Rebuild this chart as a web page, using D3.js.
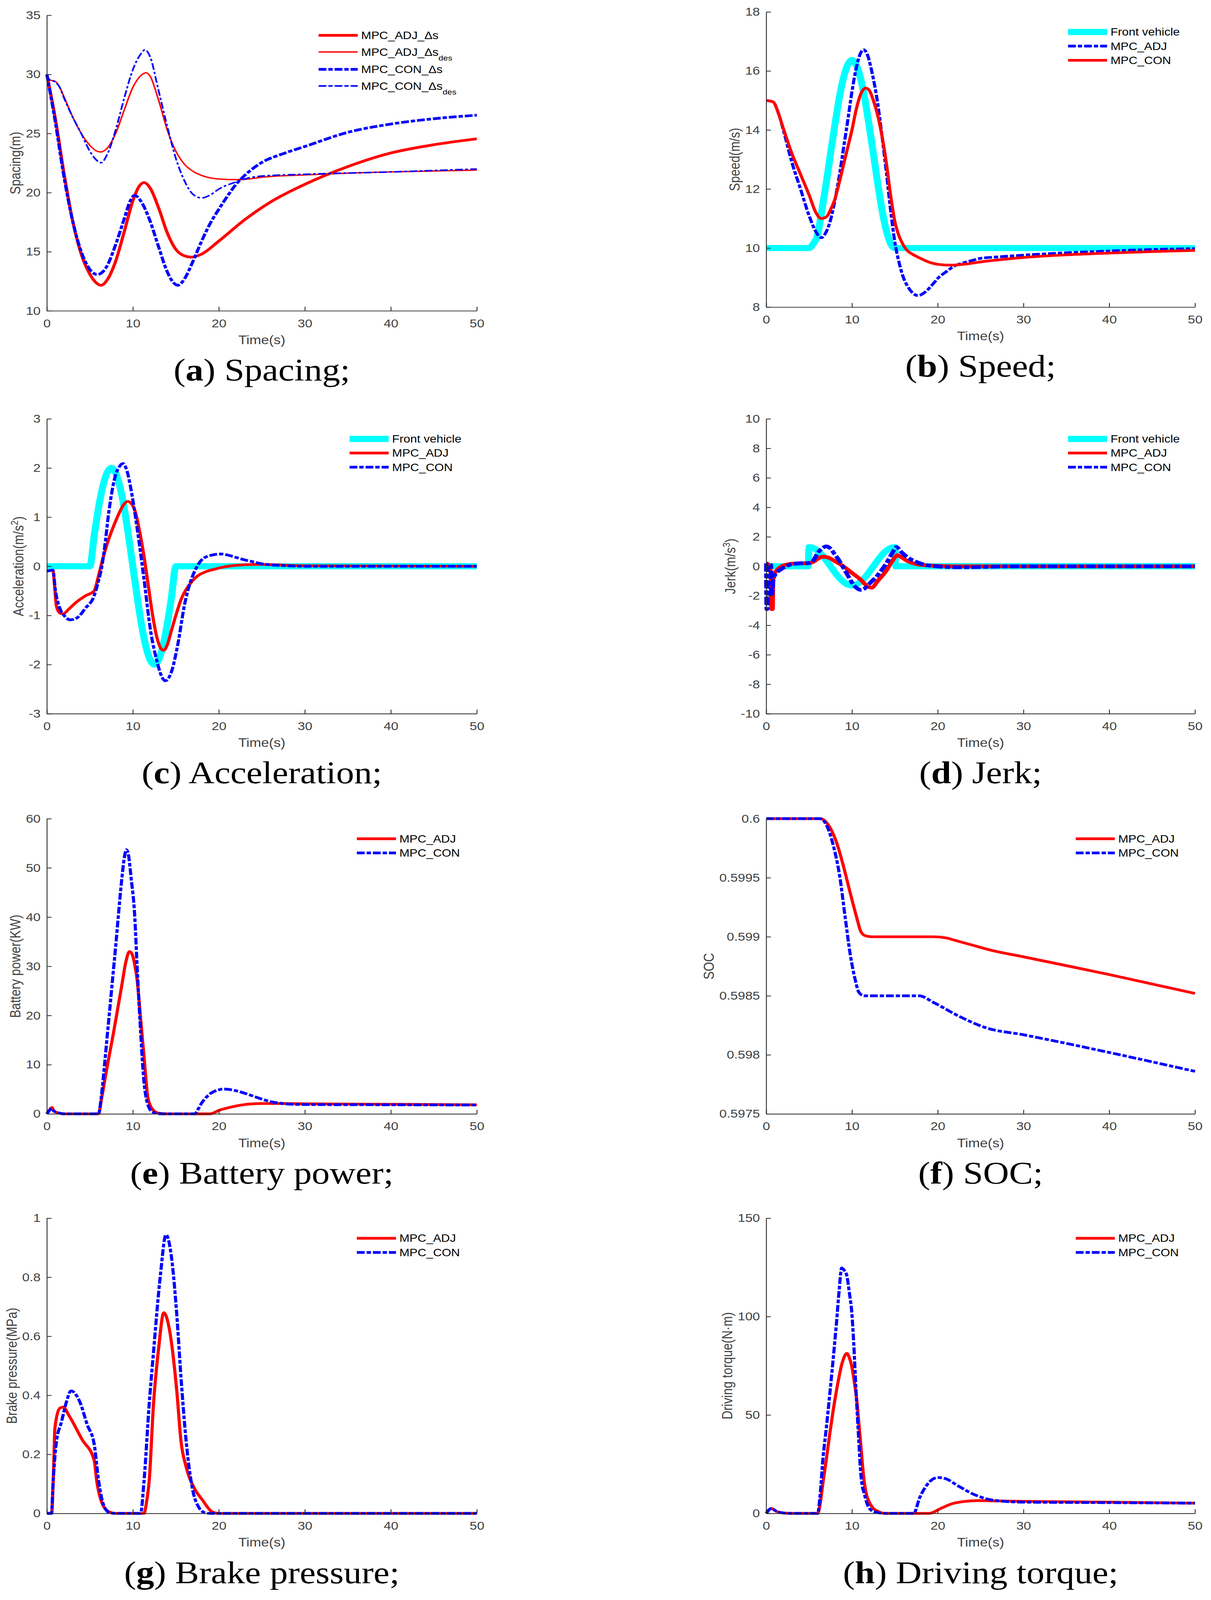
<!DOCTYPE html>
<html>
<head>
<meta charset="utf-8">
<script src="https://cdn.jsdelivr.net/npm/d3@7"></script>
<style>
	html, body { margin: 0; padding: 0; background: #fff; overflow: hidden; }
	svg { display: block; width: 100vw; height: 100vh; }
</style>
</head>
<body>
<svg id="fig" viewBox="0 0 3101 4710" preserveAspectRatio="none"></svg>
<script>

// ---- data: [time (s), value] ----

var timeTicks = [ 0, 10, 20, 30, 40, 50 ];

// (a) spacing
var spacingTicks = [ 10, 15, 20, 25, 30, 35 ];
var spacingAdj = [ [0,30],[1,26.2],[2,21.6],[3,17.6],[4,14.8],[5,13.1],[5.7,12.4],[6.3,12.16],[7,12.6],[8,14.2],[9,16.7],[10,19.3],[10.7,20.5],[11.3,20.85],[12,20.4],[13,18.7],[14,16.6],[15,15.2],[16,14.65],[16.8,14.54],[18,14.8],[20,15.9],[23,17.7],[26,19.2],[30,20.7],[35,22.2],[40,23.35],[45,24.05],[50,24.55] ];
var spacingAdjDes = [ [0,30],[0.3,29.55],[1,29.4],[1.5,28.9],[2,28.1],[3,26.4],[4,25.0],[5,24.0],[5.7,23.55],[6.3,23.44],[7,23.75],[8,25.0],[9,27.0],[10,28.9],[11,29.95],[11.55,30.14],[12,29.85],[13,27.8],[14,25.3],[15,23.5],[16,22.4],[17,21.8],[18,21.45],[20,21.15],[22,21.1],[23.5,21.15],[25,21.3],[30,21.5],[35,21.65],[40,21.75],[50,21.9] ];
var spacingCon = [ [0,30],[1,25.9],[2,21.3],[3,17.6],[4,15.0],[5,13.5],[5.85,13.07],[6.5,13.3],[7,13.8],[8,15.6],[9,17.8],[9.7,19.3],[10.2,19.77],[11,19.2],[12,17.6],[13,15.4],[14,13.3],[14.7,12.4],[15.25,12.16],[16,12.7],[17,14.2],[18,15.9],[19,17.4],[20,18.6],[21,19.7],[22,20.7],[23,21.45],[25,22.55],[27.5,23.3],[30,23.9],[35,25.1],[40,25.8],[45,26.25],[50,26.55] ];
var spacingConDes = [ [0,30],[0.3,29.55],[1,29.35],[1.5,28.9],[2,28.0],[3,26.4],[4,25.0],[5,23.5],[5.7,22.8],[6.3,22.53],[7,23.2],[8,25.3],[9,28.0],[10,30.4],[11,31.8],[11.4,32.08],[12,31.5],[13,28.6],[14,25.6],[15,22.9],[16,21.0],[17,19.85],[18,19.55],[19,19.8],[20,20.3],[22,20.9],[23,21.15],[25,21.4],[30,21.55],[40,21.75],[50,22.0] ];

// (b) speed
var speedTicks = [ 8, 10, 12, 14, 16, 18 ];
var speedFront = [ [0,10],[5,10],[5.5,10.15],[6,10.45],[6.5,11.3],[7,12.2],[7.5,13.2],[8,14.15],[8.5,15.05],[9,15.75],[9.5,16.2],[10,16.37],[10.5,16.2],[11,15.75],[11.5,15.05],[12,14.15],[12.5,13.2],[13,12.2],[13.5,11.3],[14,10.6],[14.5,10.15],[15,10],[50,10] ];
var speedAdj = [ [0,15],[0.8,14.95],[1.5,14.5],[2,14.0],[3,12.9],[4,12.0],[5,11.1],[5.8,10.55],[6.4,10.35],[7,10.55],[7.5,10.95],[8,11.6],[8.5,12.4],[9,13.35],[9.5,14.3],[10,15.3],[10.5,16.1],[11,16.6],[11.35,16.72],[11.8,16.55],[12.3,16.0],[13,14.9],[13.5,13.8],[14,12.6],[14.5,11.3],[15,10.2],[15.5,9.5],[16,9.0],[16.5,8.7],[17,8.5],[17.7,8.39],[18.5,8.5],[19.5,8.8],[20,8.97],[21,9.2],[22,9.4],[23,9.5],[24,9.58],[25,9.65],[27,9.7],[30,9.76],[35,9.84],[40,9.9],[45,9.95],[50,9.98] ];
var speedCon = [ [0,15],[0.8,14.95],[1.5,14.5],[2,14.05],[3,13.2],[4,12.5],[5,11.8],[5.8,11.2],[6.4,11.0],[7,11.05],[7.5,11.3],[8,11.65],[8.5,12.2],[9,12.8],[9.5,13.4],[10,14.0],[10.5,14.7],[11,15.2],[11.6,15.42],[12,15.35],[12.5,15.0],[13,14.5],[13.5,13.8],[14,12.9],[14.5,11.8],[15,10.9],[15.5,10.4],[16,10.1],[16.5,9.9],[17,9.8],[18,9.65],[19,9.52],[20,9.45],[21.6,9.42],[23,9.45],[25,9.53],[30,9.68],[35,9.77],[40,9.83],[45,9.88],[50,9.92] ];

// (c) acceleration
var accTicks = [ -3, -2, -1, 0, 1, 2, 3 ];
var accFront = [ [0,0],[5,0],[5.5,0.62],[6,1.18],[6.5,1.62],[7,1.9],[7.5,2.0],[8,1.9],[8.5,1.62],[9,1.18],[9.5,0.62],[10,0],[10.5,-0.62],[11,-1.18],[11.5,-1.62],[12,-1.9],[12.5,-2.0],[13,-1.9],[13.5,-1.62],[14,-1.18],[14.5,-0.62],[15,0],[50,0] ];
var accAdj = [ [0,-0.1],[0.7,-0.08],[0.9,-0.4],[1.1,-0.8],[1.5,-0.95],[1.9,-0.97],[2.5,-0.88],[3.5,-0.72],[4.5,-0.6],[5.5,-0.5],[6,-0.2],[6.5,0.15],[7,0.45],[7.5,0.7],[8,0.92],[8.5,1.12],[9,1.27],[9.4,1.32],[9.8,1.28],[10.3,1.1],[10.8,0.7],[11.3,0.2],[11.8,-0.4],[12.3,-1.0],[12.8,-1.45],[13.3,-1.68],[13.6,-1.71],[14,-1.6],[14.5,-1.3],[15,-1.0],[15.6,-0.68],[16.6,-0.37],[17.5,-0.2],[18.5,-0.11],[19.5,-0.06],[20.7,-0.01],[22,0.02],[24.5,0.04],[28,0.02],[30,0.01],[50,0] ];
var accCon = [ [0,-0.1],[0.7,-0.08],[1.0,-0.5],[1.5,-0.85],[2,-1.0],[2.7,-1.09],[3.5,-1.05],[4.5,-0.85],[5.5,-0.6],[6,-0.3],[6.4,0],[6.8,0.5],[7.15,1.03],[7.5,1.45],[7.9,1.8],[8.4,2.02],[8.85,2.09],[9.3,1.95],[9.8,1.55],[10.5,0.77],[11.3,-0.27],[12.05,-1.3],[12.8,-1.93],[13.3,-2.22],[13.75,-2.33],[14.5,-2.14],[15.25,-1.57],[16,-0.79],[16.6,-0.37],[17.3,-0.06],[18,0.13],[19,0.22],[20.3,0.25],[21,0.23],[22,0.18],[23,0.13],[24,0.09],[25,0.05],[26,0.03],[28,0.01],[30,0],[50,0] ];

// (d) jerk
var jerkTicks = [ -10, -8, -6, -4, -2, 0, 2, 4, 6, 8, 10 ];
var jerkFront = [ [0,0],[4.9,0],[5,1.3],[5.5,1.24],[6,1.05],[6.5,0.77],[7,0.4],[7.5,0],[8,-0.4],[8.5,-0.77],[9,-1.05],[9.5,-1.24],[10,-1.3],[10.5,-1.24],[11,-1.05],[11.5,-0.77],[12,-0.4],[12.5,0],[13,0.4],[13.5,0.77],[14,1.05],[14.5,1.24],[15,1.3],[15.1,0],[50,0] ];
var jerkAdj = [ [0,0.2],[0.3,0.1],[0.55,-0.5],[0.62,-2.9],[0.75,-2.9],[0.8,-1.0],[0.9,-0.6],[1.2,-0.3],[1.6,-0.08],[2,0.05],[2.5,0.13],[3,0.18],[4,0.2],[5,0.22],[5.5,0.3],[6,0.5],[6.6,0.65],[7.2,0.6],[8,0.35],[9,0.0],[10,-0.45],[11,-0.9],[11.8,-1.35],[12.3,-1.45],[13,-1.0],[14,-0.3],[14.7,0.35],[15.3,0.75],[15.8,0.6],[16.5,0.35],[17.5,0.15],[18.5,0.07],[20,0.03],[22,0],[50,0] ];
var jerkCon = [ [0,0.2],[0.05,-2.9],[0.12,-2.9],[0.2,0.15],[0.55,0.1],[0.62,-2.0],[0.7,-1.8],[0.85,-0.8],[1.2,-0.45],[1.6,-0.25],[2,-0.1],[2.5,0.05],[3,0.15],[4,0.2],[5,0.22],[5.5,0.4],[6,0.9],[6.5,1.2],[7,1.35],[7.5,1.2],[8,0.8],[8.5,0.4],[9,-0.1],[9.5,-0.6],[10,-1.1],[10.5,-1.45],[11,-1.6],[11.5,-1.5],[12,-1.2],[13,-0.6],[14,0.2],[14.7,0.9],[15.2,1.3],[15.7,1.0],[16.5,0.6],[17.5,0.3],[18.5,0.1],[19.5,0.02],[21,-0.05],[23,-0.07],[25,-0.05],[27,-0.02],[30,0],[50,0] ];

// (e) battery power
var powerTicks = [ 0, 10, 20, 30, 40, 50, 60 ];
var powerAdj = [ [0,0],[0.3,0.8],[0.6,1.3],[0.8,0.6],[1.2,0.25],[2,0],[6,0],[6.4,3.5],[7,9.5],[7.7,16],[8.2,21],[8.7,26],[9.2,31],[9.6,33.0],[9.9,32.5],[10.2,30.5],[10.5,27.2],[10.7,23.5],[10.9,19.4],[11.1,15.5],[11.3,11.6],[11.5,7.5],[11.7,3.8],[12,1.8],[12.4,0.7],[13,0.15],[14,0],[19,0],[19.5,0.3],[20,0.7],[21,1.2],[22,1.6],[23,1.9],[24,2.05],[25,2.1],[27,2.1],[30,2.05],[40,1.95],[50,1.85] ];
var powerCon = [ [0,0],[0.3,0.7],[0.6,1.1],[0.8,0.6],[1.2,0.3],[2,0],[6,0],[6.3,3],[6.6,8],[7,15.5],[7.3,21],[7.7,28.5],[8,34],[8.3,40],[8.7,47.5],[9,52],[9.25,53.7],[9.5,52.5],[9.8,47.9],[10.2,40.7],[10.5,29.8],[10.7,23],[10.9,16.8],[11.1,11],[11.3,6.4],[11.6,2.8],[11.9,1.2],[12.3,0.4],[13,0.05],[14,0],[17.2,0],[17.6,1],[18,2.2],[18.5,3.3],[19,4.1],[19.5,4.6],[20,4.9],[20.5,5.05],[21,5.0],[22,4.7],[23,4.2],[24,3.6],[25,3.0],[26,2.5],[27,2.2],[28,2.0],[30,1.9],[40,1.85],[50,1.8] ];

// (f) SOC
var socTicks = [ 0.5975, 0.598, 0.5985, 0.599, 0.5995, 0.6 ];
var socAdj = [ [0,0.6],[6.3,0.6],[7.0,0.59997],[7.4,0.59993],[8.2,0.5998],[9.0,0.5996],[9.8,0.59937],[10.6,0.59915],[11.0,0.59905],[11.5,0.59901],[12.3,0.599],[19.5,0.599],[21,0.59899],[22,0.59897],[24,0.59893],[26,0.59889],[30,0.59883],[40,0.59868],[50,0.59852] ];
var socCon = [ [0,0.6],[6.3,0.6],[7.0,0.59995],[7.8,0.59978],[8.6,0.5995],[9.2,0.59917],[9.8,0.59885],[10.4,0.59863],[10.8,0.59853],[11.4,0.5985],[17.8,0.5985],[19.6,0.59844],[22.4,0.59833],[25.6,0.59823],[30,0.59817],[40,0.59802],[50,0.59786] ];

// (g) brake pressure
var brakeTicks = [ 0, 0.2, 0.4, 0.6, 0.8, 1 ];
var brakeAdj = [ [0,0],[0.55,0],[0.75,0.12],[0.94,0.29],[1.5,0.356],[1.9,0.36],[2.6,0.33],[4.1,0.25],[5.5,0.18],[5.8,0.11],[6.4,0.036],[7.2,0.006],[8,0],[11.3,0],[11.6,0.04],[11.9,0.11],[12.4,0.37],[13.0,0.56],[13.6,0.68],[14.3,0.615],[15.1,0.417],[15.6,0.244],[16.2,0.157],[17.1,0.088],[18.1,0.045],[19.2,0.006],[20,0],[50,0] ];
var brakeCon = [ [0,0],[0.55,0],[0.7,0.09],[1.1,0.24],[1.7,0.31],[2.3,0.38],[2.8,0.415],[3.8,0.38],[4.7,0.30],[5.5,0.235],[6.0,0.114],[6.6,0.028],[7.3,0.002],[8,0],[10.9,0],[11.3,0.11],[11.9,0.37],[12.4,0.546],[13.2,0.806],[13.85,0.944],[14.5,0.866],[15.1,0.676],[15.6,0.46],[16.2,0.244],[16.9,0.088],[17.7,0.019],[18.4,0.002],[19,0],[50,0] ];

// (h) driving torque
var torqueTicks = [ 0, 50, 100, 150 ];
var torqueAdj = [ [0,0],[0.6,2.5],[1.2,1],[2,0.2],[3,0],[6,0],[6.3,5],[6.6,15],[7,27],[7.4,40],[7.8,52],[8.2,62.5],[8.5,69.5],[8.8,75.5],[9.1,79.5],[9.4,81.3],[9.7,79],[10,74.2],[10.3,66],[10.6,56],[10.8,46],[11,36.6],[11.2,26],[11.4,17.1],[11.7,9.5],[12.05,5.4],[12.5,2.5],[13.1,0.9],[13.5,0.2],[14,0],[19,0],[20.4,2.6],[21.6,4.8],[23.2,6.1],[24.8,6.5],[26.5,6.35],[30,6.1],[40,5.7],[50,5.2] ];
var torqueCon = [ [0,0],[0.6,2.5],[1.2,1],[2,0.2],[3,0],[6,0],[6.3,10],[6.6,27],[7,43],[7.4,60],[7.8,78],[8.2,97],[8.5,113],[8.8,124.7],[9.1,123.5],[9.4,120.8],[9.7,112],[10,101],[10.2,87],[10.4,69],[10.6,52],[10.8,36.6],[11,22],[11.2,14],[11.4,10.6],[11.8,4.5],[12.25,1.6],[13.1,0.3],[14,0],[17.2,0],[17.9,8],[18.75,14.5],[20,18.2],[20.8,17.8],[22.4,13.9],[24.4,9.3],[26.5,6.7],[30,5.7],[40,5.45],[50,5.2] ];


// ---- styles ----
var SANS = '"Liberation Sans", Arial, Helvetica, sans-serif';
var SERIF = '"Liberation Serif", "Times New Roman", serif';
var AXIS_COLOR = '#262626';
var TEXT_COLOR = '#404040';

var styles = {
	red: { color: '#ff0000', width: 8, dash: null },
	redThin: { color: '#ff0000', width: 4, dash: null },
	blue: { color: '#0000ff', width: 8, dash: '20,5,11,5' },
	blueThin: { color: '#0000ff', width: 4.5, dash: '20,6,7,6' },
	cyan: { color: '#00ffff', width: 18, dash: null },
	// the jerk traces are noisy in the source, drawn as a wider band
	redJerk: { color: '#ff0000', width: 11, dash: null, legend: 8 },
	blueJerk: { color: '#0000ff', width: 11, dash: '24,6,13,6', legend: 8 }
};

var colLeft = { x0: 120, x1: 1221 };
var colRight = { x0: 1962, x1: 3060 };
var rows3 = [ 0.068, 0.116, 0.164 ];
var rows2 = [ 0.068, 0.116 ];

var panels = [
	{ col: colLeft, y0: 45, y1: 915, domain: [ 10, 35 ], ticks: spacingTicks, yLabel: 'Spacing(m)',
		letter: 'a', title: ' Spacing;', legendX: 0.632, legendRows: [ 0.068, 0.124, 0.183, 0.239 ],
		series: [
			{ data: spacingAdj, style: 'red', label: 'MPC_ADJ_\u0394s' },
			{ data: spacingAdjDes, style: 'redThin', label: 'MPC_ADJ_\u0394s', sub: 'des' },
			{ data: spacingCon, style: 'blue', label: 'MPC_CON_\u0394s' },
			{ data: spacingConDes, style: 'blueThin', label: 'MPC_CON_\u0394s', sub: 'des' }
		] },
	{ col: colRight, y0: 35, y1: 904, domain: [ 8, 18 ], ticks: speedTicks, yLabel: 'Speed(m/s)',
		letter: 'b', title: ' Speed;', legendX: 0.704, legendRows: rows3,
		series: [
			{ data: speedFront, style: 'cyan', label: 'Front vehicle' },
			{ data: speedAdj, style: 'blue', label: 'MPC_ADJ' },
			{ data: speedCon, style: 'red', label: 'MPC_CON' }
		] },
	{ col: colLeft, y0: 1233, y1: 2101, domain: [ -3, 3 ], ticks: accTicks, yLabel: 'Acceleration(m/s', yLabelSup: '2',
		letter: 'c', title: ' Acceleration;', legendX: 0.704, legendRows: rows3,
		series: [
			{ data: accFront, style: 'cyan', label: 'Front vehicle' },
			{ data: accAdj, style: 'red', label: 'MPC_ADJ' },
			{ data: accCon, style: 'blue', label: 'MPC_CON' }
		] },
	{ col: colRight, y0: 1233, y1: 2101, domain: [ -10, 10 ], ticks: jerkTicks, yLabel: 'Jerk(m/s', yLabelSup: '3',
		letter: 'd', title: ' Jerk;', legendX: 0.704, legendRows: rows3,
		series: [
			{ data: jerkFront, style: 'cyan', label: 'Front vehicle' },
			{ data: jerkAdj, style: 'redJerk', label: 'MPC_ADJ' },
			{ data: jerkCon, style: 'blueJerk', label: 'MPC_CON' }
		] },
	{ col: colLeft, y0: 2410, y1: 3279, domain: [ 0, 60 ], ticks: powerTicks, yLabel: 'Battery power(KW)',
		letter: 'e', title: ' Battery power;', legendX: 0.721, legendRows: rows2,
		series: [
			{ data: powerAdj, style: 'red', label: 'MPC_ADJ' },
			{ data: powerCon, style: 'blue', label: 'MPC_CON' }
		] },
	{ col: colRight, y0: 2410, y1: 3279, domain: [ 0.5975, 0.6 ], ticks: socTicks, yLabel: 'SOC',
		letter: 'f', title: ' SOC;', legendX: 0.722, legendRows: rows2,
		series: [
			{ data: socAdj, style: 'red', label: 'MPC_ADJ' },
			{ data: socCon, style: 'blue', label: 'MPC_CON' }
		] },
	{ col: colLeft, y0: 3586, y1: 4455, domain: [ 0, 1 ], ticks: brakeTicks, yLabel: 'Brake pressure(MPa)',
		letter: 'g', title: ' Brake pressure;', legendX: 0.721, legendRows: rows2,
		series: [
			{ data: brakeAdj, style: 'red', label: 'MPC_ADJ' },
			{ data: brakeCon, style: 'blue', label: 'MPC_CON' }
		] },
	{ col: colRight, y0: 3586, y1: 4455, domain: [ 0, 150 ], ticks: torqueTicks, yLabel: 'Driving torque(N\u00b7m)',
		letter: 'h', title: ' Driving torque;', legendX: 0.722, legendRows: rows2,
		series: [
			{ data: torqueAdj, style: 'red', label: 'MPC_ADJ' },
			{ data: torqueCon, style: 'blue', label: 'MPC_CON' }
		] }
];

var svg = d3.select( '#fig' );

function applyStroke( sel, st ) {
	sel.attr( 'fill', 'none' )
		.attr( 'stroke', st.color )
		.attr( 'stroke-width', st.width )
		.attr( 'stroke-linejoin', 'round' )
		.attr( 'stroke-linecap', 'butt' );
	if ( st.dash ) {
		sel.attr( 'stroke-dasharray', st.dash );
	}
	return sel;
}

panels.forEach( function ( p ) {

	var x0 = p.col.x0, x1 = p.col.x1;
	var w = x1 - x0, h = p.y1 - p.y0;

	var x = d3.scaleLinear().domain( [ 0, 50 ] ).range( [ x0, x1 ] );
	var y = d3.scaleLinear().domain( p.domain ).range( [ p.y1, p.y0 ] );

	var g = svg.append( 'g' );

	// Data lines first, axes drawn over them.
	var line = d3.line()
		.x( function ( d ) { return x( d[0] ); } )
		.y( function ( d ) { return y( d[1] ); } )
		.curve( d3.curveMonotoneX );

	p.series.forEach( function ( s ) {
		applyStroke( g.append( 'path' ).attr( 'd', line( s.data ) ), styles[ s.style ] );
	} );

	// Axes: MATLAB look, box off, inward ticks.
	var xAxis = g.append( 'g' )
		.attr( 'transform', 'translate(0,' + p.y1 + ')' )
		.call( d3.axisBottom( x ).tickValues( timeTicks ).tickSizeInner( -12 ).tickSizeOuter( 0 ).tickPadding( 24 ) );
	var yAxis = g.append( 'g' )
		.attr( 'transform', 'translate(' + x0 + ',0)' )
		.call( d3.axisLeft( y ).tickValues( p.ticks ).tickSizeInner( -12 ).tickSizeOuter( 0 ).tickPadding( 16 )
			.tickFormat( function ( d ) { return String( d ); } ) );

	[ xAxis, yAxis ].forEach( function ( a ) {
		a.attr( 'font-family', SANS ).attr( 'font-size', 34 );
		a.selectAll( 'path, line' ).attr( 'stroke', AXIS_COLOR ).attr( 'stroke-width', 2.2 );
		a.selectAll( 'text' ).attr( 'fill', TEXT_COLOR );
	} );

	// Axis labels.
	g.append( 'text' )
		.attr( 'x', ( x0 + x1 ) / 2 )
		.attr( 'y', p.y1 + 98 )
		.attr( 'text-anchor', 'middle' )
		.attr( 'font-family', SANS )
		.attr( 'font-size', 36 )
		.attr( 'fill', TEXT_COLOR )
		.text( 'Time(s)' );

	var maxW = 0;
	yAxis.selectAll( 'text' ).each( function () {
		maxW = Math.max( maxW, this.getComputedTextLength() );
	} );
	var lx = x0 - 16 - maxW - 14;
	var yl = g.append( 'text' )
		.attr( 'transform', 'translate(' + lx + ',' + ( ( p.y0 + p.y1 ) / 2 ) + ') rotate(-90)' )
		.attr( 'text-anchor', 'middle' )
		.attr( 'font-family', SANS )
		.attr( 'font-size', 36 )
		.attr( 'fill', TEXT_COLOR );
	yl.append( 'tspan' ).text( p.yLabel );
	if ( p.yLabelSup ) {
		yl.append( 'tspan' ).attr( 'font-size', 25 ).attr( 'dy', -14 ).text( p.yLabelSup );
		yl.append( 'tspan' ).attr( 'dy', 14 ).text( ')' );
	}

	// Legend, no box.
	var legX = x0 + p.legendX * w;
	p.series.forEach( function ( s, i ) {
		var st = styles[ s.style ];
		var ly = p.y0 + p.legendRows[ i ] * h;
		applyStroke( g.append( 'line' )
			.attr( 'x1', legX ).attr( 'x2', legX + 0.091 * w )
			.attr( 'y1', ly ).attr( 'y2', ly ), st )
			.attr( 'stroke-width', st.legend || st.width )
			.attr( 'stroke-dasharray', st.dash ? '20,5,11,5' : null );
		var t = g.append( 'text' )
			.attr( 'x', legX + 0.099 * w )
			.attr( 'y', ly + 11 )
			.attr( 'font-family', SANS )
			.attr( 'font-size', 31 )
			.attr( 'fill', '#000' );
		t.append( 'tspan' ).text( s.label );
		if ( s.sub ) {
			t.append( 'tspan' ).attr( 'font-size', 22 ).attr( 'dy', 14 ).text( s.sub );
		}
	} );

	// Caption under the panel.
	var cap = g.append( 'text' )
		.attr( 'x', ( x0 + x1 ) / 2 )
		.attr( 'y', p.y1 + 205 )
		.attr( 'text-anchor', 'middle' )
		.attr( 'font-family', SERIF )
		.attr( 'font-size', 92 )
		.attr( 'fill', '#000' );
	cap.append( 'tspan' ).text( '(' );
	cap.append( 'tspan' ).attr( 'font-weight', 'bold' ).text( p.letter );
	cap.append( 'tspan' ).text( ')' + p.title );

} );

</script>
</body>
</html>
